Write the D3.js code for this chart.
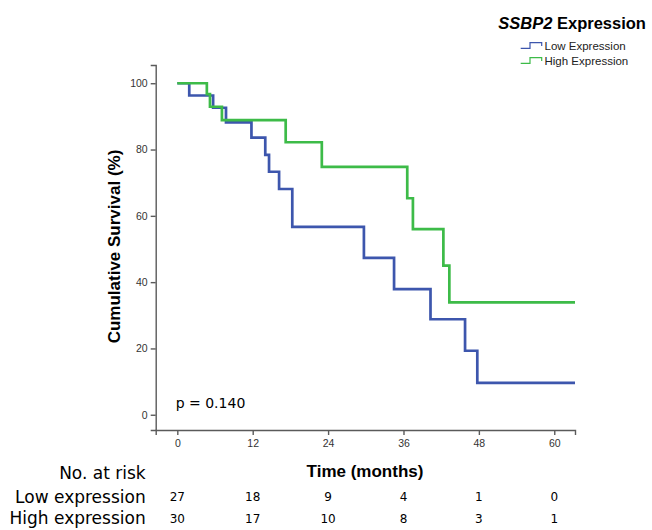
<!DOCTYPE html>
<html>
<head>
<meta charset="utf-8">
<title>SSBP2 survival</title>
<script src="https://cdn.jsdelivr.net/npm/d3@7"></script>
<style>
  body { margin: 0; background: #fff; }
  .axis path, .axis line { stroke: #5a5a5a; stroke-width: 1.4; }
  .axis text { font-family: "Liberation Sans", Arial, sans-serif; font-size: 10.5px; fill: #333; }
</style>
</head>
<body>
<script>

// Kaplan-Meier steps (months, % surviving)
var lowTimes = [0, 1.9, 5.7, 7.75, 11.8, 14.0, 14.6, 16.2, 18.3, 29.7, 34.5, 40.3, 45.8, 47.75, 63.3];
var lowSurv  = [100, 96.3, 92.6, 88.2, 83.6, 78.4, 73.3, 68.1, 56.7, 47.3, 37.9, 28.8, 19.3, 9.6, 9.6];

var highTimes = [0, 4.7, 5.2, 7.1, 17.25, 23.0, 36.6, 37.5, 42.35, 43.3, 63.3];
var highSurv  = [100, 96.7, 92.9, 88.9, 82.2, 74.8, 65.3, 56.0, 45.0, 33.9, 33.9];

// axis ticks
var xTicks = [0, 12, 24, 36, 48, 60];
var yTicks = [0, 20, 40, 60, 80, 100];

// number at risk table
var riskTimes = [0, 12, 24, 36, 48, 60];
var lowRisk  = [27, 18, 9, 4, 1, 0];
var highRisk = [30, 17, 10, 8, 3, 1];

var groups = ["Low Expression", "High Expression"];
var colors = ["#3d56ad", "#3dbb48"];
var pValue = "p = 0.140";

drawChart();

function drawChart() {

    var w = 652;
    var h = 530;

    var svg = d3.select("body")
                .append("svg")
                .attr("width", w)
                .attr("height", h);

    var xScale = d3.scaleLinear()
                   .domain([-3.44, 63.3])
                   .range([155.7, 575]);

    var yScale = d3.scaleLinear()
                   .domain([-4.6, 105.5])
                   .range([430, 65]);

    // x axis
    svg.append("g")
       .attr("class", "axis")
       .attr("transform", "translate(0,430)")
       .call(d3.axisBottom(xScale).tickValues(xTicks).tickSizeOuter(0).tickSize(5).tickPadding(5));

    // y axis
    svg.append("g")
       .attr("class", "axis")
       .attr("transform", "translate(155.7,0)")
       .call(d3.axisLeft(yScale).tickValues(yTicks).tickSizeOuter(0).tickSize(5).tickPadding(3));

    // axis titles
    svg.append("text")
       .attr("x", 365)
       .attr("y", 477)
       .attr("text-anchor", "middle")
       .style("font-family", "'Liberation Sans', Arial, sans-serif")
       .style("font-weight", "bold")
       .style("font-size", "17px")
       .text("Time (months)");

    svg.append("text")
       .attr("transform", "translate(120,246.5) rotate(-90)")
       .attr("text-anchor", "middle")
       .style("font-family", "'Liberation Sans', Arial, sans-serif")
       .style("font-weight", "bold")
       .style("font-size", "17px")
       .text("Cumulative Survival (%)");

    // survival curves
    var line = d3.line()
                 .x(function(d) { return xScale(d[0]); })
                 .y(function(d) { return yScale(d[1]); })
                 .curve(d3.curveStepAfter);

    var lowData = lowTimes.map(function(t, i) { return [t, lowSurv[i]]; });
    var highData = highTimes.map(function(t, i) { return [t, highSurv[i]]; });

    svg.selectAll(".curve")
       .data([lowData, highData])
       .enter()
       .append("path")
       .attr("class", "curve")
       .attr("d", line)
       .attr("fill", "none")
       .attr("stroke", function(d, i) { return colors[i]; })
       .attr("stroke-width", 2.7);

    // p value
    svg.append("text")
       .attr("x", 175.7)
       .attr("y", 407.5)
       .style("font-family", "'DejaVu Sans', Verdana, sans-serif")
       .style("font-size", "14px")
       .text(pValue);

    // legend
    var title = svg.append("text")
                   .attr("x", 498.3)
                   .attr("y", 28.5)
                   .style("font-family", "'Liberation Sans', Arial, sans-serif")
                   .style("font-weight", "bold")
                   .style("font-size", "16.5px");
    title.append("tspan").style("font-style", "italic").text("SSBP2");
    title.append("tspan").text(" Expression");

    var legend = svg.selectAll(".legend")
                    .data(groups)
                    .enter()
                    .append("g")
                    .attr("class", "legend")
                    .attr("transform", function(d, i) { return "translate(0," + (i * 15) + ")"; });

    legend.append("path")
          .attr("d", "M520.7,48.3H530V42.7H541.7V46")
          .attr("fill", "none")
          .attr("stroke", function(d, i) { return colors[i]; })
          .attr("stroke-width", 1.2);

    legend.append("text")
          .attr("x", 544.5)
          .attr("y", 50)
          .style("font-family", "'Liberation Sans', Arial, sans-serif")
          .style("font-size", "11.5px")
          .style("fill", "#222")
          .text(function(d) { return d; });

    // number at risk
    var labelFont = "'DejaVu Sans', Verdana, sans-serif";
    var rows = [["No. at risk", 473.3, null],
                ["Low expression", 496.7, lowRisk],
                ["High expression", 518.3, highRisk]];

    rows.forEach(function(row) {
        svg.append("text")
           .attr("x", 145.7)
           .attr("y", row[1])
           .attr("dy", "0.36em")
           .attr("text-anchor", "end")
           .style("font-family", labelFont)
           .style("font-size", "17px")
           .text(row[0]);

        if (row[2] != null) {
            svg.selectAll(null)
               .data(row[2])
               .enter()
               .append("text")
               .attr("x", function(d, i) { return xScale(riskTimes[i]); })
               .attr("y", row[1])
               .attr("dy", "0.36em")
               .attr("text-anchor", "middle")
               .style("font-family", labelFont)
               .style("font-size", "12px")
               .text(function(d) { return d; });
        }
    });
};

</script>
</body>
</html>
